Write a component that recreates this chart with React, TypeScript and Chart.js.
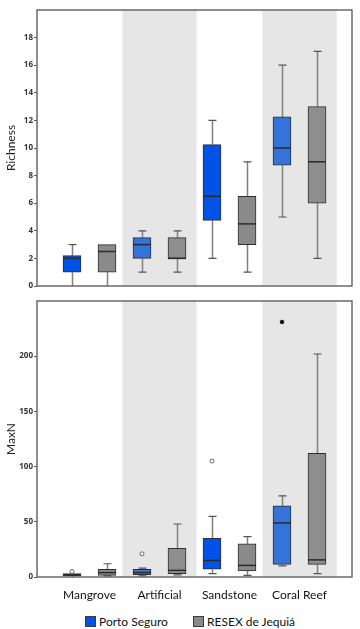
import React, { useEffect, useRef } from "react";
import { Chart, registerables } from "chart.js";
Chart.register(...registerables);

const categories = ["Mangrove", "Artificial", "Sandstone", "Coral Reef"];
const seriesNames = ["Porto Seguro", "RESEX de Jequiá"];
const shadedCategories = [1, 3];

// Richness – Porto Seguro
const richPortoMin = [0, 1, 2, 5];
const richPortoQ1 = [1, 2, 4.75, 8.75];
const richPortoMed = [2, 3, 6.5, 10];
const richPortoQ3 = [2.2, 3.5, 10.25, 12.25];
const richPortoMax = [3, 4, 12, 16];
// Richness – RESEX de Jequiá
const richResexMin = [0, 1, 1, 2];
const richResexQ1 = [1, 2, 3, 6];
const richResexMed = [2.5, 2, 4.5, 9];
const richResexQ3 = [3, 3.5, 6.5, 13];
const richResexMax = [3, 4, 9, 17];
const richTicks = [0, 2, 4, 6, 8, 10, 12, 14, 16, 18];

// MaxN – Porto Seguro
const maxnPortoMin = [0, 1, 3, 10];
const maxnPortoQ1 = [1, 2, 7, 11.5];
const maxnPortoMed = [2, 4, 15, 49];
const maxnPortoQ3 = [3, 7, 35, 64.5];
const maxnPortoMax = [3, 8, 55, 73.5];
const maxnPortoOutliers = [5, 21, 105, null];
const maxnPortoExtremes = [null, null, null, 231];
// MaxN – RESEX de Jequiá
const maxnResexMin = [1, 2, 1.5, 3];
const maxnResexQ1 = [1.5, 3, 5.5, 11.5];
const maxnResexMed = [4, 6, 10.5, 15.5];
const maxnResexQ3 = [7, 26, 30, 112];
const maxnResexMax = [12, 48, 36.5, 202];
const maxnTicks = [0, 50, 100, 150, 200];

const bluePlain = "#0352e6";
const blueShaded = "#3373da";
const grayPlain = "#8a8a8a";
const grayShaded = "#8e8e8e";
const blueColors = categories.map((_, i) => (shadedCategories.includes(i) ? blueShaded : bluePlain));
const grayColors = categories.map((_, i) => (shadedCategories.includes(i) ? grayShaded : grayPlain));

const FONT = "Lato, 'Open Sans', sans-serif";

const boxPlugin = {
  id: "boxDecor",
  beforeDatasetsDraw(chart: any, _a: any, opts: any) {
    const { ctx, chartArea, scales } = chart;
    const x = scales.x, y = scales.y;
    ctx.save();
    ctx.fillStyle = "#e6e6e6";
    shadedCategories.forEach((i) => {
      const l = x.getPixelForValue(i - 0.53);
      const r = x.getPixelForValue(i + 0.53);
      ctx.fillRect(l, chartArea.top, r - l, chartArea.bottom - chartArea.top);
    });
    opts.series.forEach((s: any) => {
      s.min.forEach((mn: number, i: number) => {
        const cx = Math.round(x.getPixelForValue(i + s.offset)) + 0.5;
        const pMin = y.getPixelForValue(mn);
        const pMax = y.getPixelForValue(s.max[i]);
        const pQ1 = y.getPixelForValue(s.q1[i]);
        const pQ3 = y.getPixelForValue(s.q3[i]);
        ctx.strokeStyle = "#808080";
        ctx.lineWidth = 1.5;
        ctx.beginPath();
        ctx.moveTo(cx, pQ3);
        ctx.lineTo(cx, pMax);
        ctx.moveTo(cx, pQ1);
        ctx.lineTo(cx, pMin);
        ctx.stroke();
        ctx.strokeStyle = "#555";
        ctx.lineWidth = 1.2;
        ctx.beginPath();
        if (pMax < pQ3 - 0.5) {
          ctx.moveTo(cx - 4, pMax);
          ctx.lineTo(cx + 4, pMax);
        }
        if (pMin > pQ1 + 0.5 && mn > 0) {
          ctx.moveTo(cx - 4, pMin);
          ctx.lineTo(cx + 4, pMin);
        }
        ctx.stroke();
      });
    });
    ctx.restore();
  },
  afterDatasetsDraw(chart: any, _a: any, opts: any) {
    const { ctx, scales } = chart;
    const x = scales.x, y = scales.y;
    ctx.save();
    ctx.strokeStyle = "#2a2a2a";
    ctx.lineWidth = 1.5;
    opts.series.forEach((s: any) => {
      s.med.forEach((m: number, i: number) => {
        const cx = x.getPixelForValue(i + s.offset);
        const py = y.getPixelForValue(m);
        ctx.beginPath();
        ctx.moveTo(cx - 9, py);
        ctx.lineTo(cx + 9, py);
        ctx.stroke();
      });
    });
    ctx.restore();
  },
  afterDraw(chart: any) {
    const { ctx, chartArea } = chart;
    ctx.save();
    ctx.strokeStyle = "#6a6a6a";
    ctx.lineWidth = 1.5;
    ctx.strokeRect(chartArea.left, chartArea.top, chartArea.right - chartArea.left, chartArea.bottom - chartArea.top);
    ctx.restore();
  },
};

type Series = { offset: number; min: number[]; q1: number[]; med: number[]; q3: number[]; max: number[]; colors: string[] };

function boxDataset(s: Series, label: string) {
  return {
    type: "bar" as const,
    label,
    data: categories.map((_, i) => ({ x: i + s.offset, y: [s.q1[i], s.q3[i]] })),
    backgroundColor: s.colors,
    borderColor: "#2e2e2e",
    borderWidth: 1,
    borderSkipped: false,
    barThickness: 18,
    grouped: false,
    order: 2,
  };
}

function pointDataset(vals: (number | null)[], offset: number, filled: boolean) {
  return {
    type: "scatter" as const,
    label: "",
    data: categories
      .map((_, i) => (vals[i] == null ? null : { x: i + offset, y: vals[i] as number }))
      .filter((d) => d !== null),
    pointStyle: "circle",
    pointRadius: filled ? 1.8 : 2,
    pointBackgroundColor: filled ? "#111" : "#fff",
    pointBorderColor: filled ? "#111" : "#666",
    pointBorderWidth: 1,
    showLine: false,
    order: 1,
  };
}

function Panel(props: {
  height: number;
  title: string;
  yMax: number;
  ticks: number[];
  porto: Series;
  resex: Series;
  outliers?: (number | null)[];
  extremes?: (number | null)[];
  showX: boolean;
  padTop: number;
  padBottom: number;
}) {
  const ref = useRef<HTMLCanvasElement>(null);
  useEffect(() => {
    const datasets: any[] = [boxDataset(props.porto, seriesNames[0]), boxDataset(props.resex, seriesNames[1])];
    if (props.outliers) datasets.push(pointDataset(props.outliers, props.porto.offset, false));
    if (props.extremes) datasets.push(pointDataset(props.extremes, props.porto.offset, true));
    const chart = new Chart(ref.current as HTMLCanvasElement, {
      type: "bar",
      data: { datasets },
      plugins: [boxPlugin],
      options: {
        responsive: false,
        animation: false,
        events: [],
        layout: { autoPadding: false, padding: { top: props.padTop, right: 8, left: 0, bottom: props.padBottom } },
        plugins: {
          legend: { display: false },
          tooltip: { enabled: false },
          boxDecor: { series: [props.porto, props.resex] },
        } as any,
        scales: {
          x: {
            type: "linear",
            min: -0.75,
            max: 3.75,
            offset: false,
            display: props.showX,
            afterBuildTicks: (s: any) => {
              s.ticks = categories.map((_, i) => ({ value: i }));
            },
            afterFit: (s: any) => {
              s.height = props.showX ? 26 : 0;
            },
            grid: { display: false, drawTicks: false },
            border: { display: false },
            ticks: {
              autoSkip: false,
              maxRotation: 0,
              padding: 11,
              color: "#111",
              font: { family: FONT, size: 12 },
              callback: (v: any) => categories[Math.round(Number(v))] ?? "",
            },
          },
          y: {
            type: "linear",
            min: 0,
            max: props.yMax,
            afterBuildTicks: (s: any) => {
              s.ticks = props.ticks.map((v) => ({ value: v }));
            },
            afterFit: (s: any) => {
              s.width = 37;
            },
            grid: { drawOnChartArea: false, drawTicks: true, tickLength: 3, color: "#555" },
            border: { display: false },
            ticks: { padding: 1, color: "#333", font: { family: "'Open Sans', sans-serif", size: 8, weight: "bold" } },
            title: { display: true, text: props.title, color: "#222", font: { family: FONT, size: 12 } },
          },
        },
      } as any,
    });
    return () => chart.destroy();
  }, []);
  return <canvas ref={ref} width={360} height={props.height} style={{ display: "block" }} />;
}

export default function App() {
  const richPorto: Series = { offset: -0.25, min: richPortoMin, q1: richPortoQ1, med: richPortoMed, q3: richPortoQ3, max: richPortoMax, colors: blueColors };
  const richResex: Series = { offset: 0.25, min: richResexMin, q1: richResexQ1, med: richResexMed, q3: richResexQ3, max: richResexMax, colors: grayColors };
  const maxnPorto: Series = { offset: -0.25, min: maxnPortoMin, q1: maxnPortoQ1, med: maxnPortoMed, q3: maxnPortoQ3, max: maxnPortoMax, colors: blueColors };
  const maxnResex: Series = { offset: 0.25, min: maxnResexMin, q1: maxnResexQ1, med: maxnResexMed, q3: maxnResexQ3, max: maxnResexMax, colors: grayColors };
  const legendItem = (left: number, color: string, text: string) => (
    <div style={{ position: "absolute", left, top: 613, display: "flex", alignItems: "center", height: 16 }}>
      <div style={{ width: 9, height: 9, background: color, border: "1px solid #3a3a3a", marginRight: 3 }} />
      <span style={{ fontFamily: FONT, fontSize: 12, color: "#111" }}>{text}</span>
    </div>
  );
  return (
    <div style={{ position: "absolute", left: 0, top: 0, width: 360, height: 629, background: "#fff", overflow: "hidden" }}>
      <div style={{ position: "absolute", left: 0, top: 0 }}>
        <Panel height={292} title="Richness" yMax={20} ticks={richTicks} porto={richPorto} resex={richResex} showX={false} padTop={10} padBottom={6} />
      </div>
      <div style={{ position: "absolute", left: 0, top: 292 }}>
        <Panel height={313} title="MaxN" yMax={250} ticks={maxnTicks} porto={maxnPorto} resex={maxnResex} outliers={maxnPortoOutliers} extremes={maxnPortoExtremes} showX={true} padTop={9} padBottom={2} />
      </div>
      {legendItem(85, bluePlain, seriesNames[0])}
      {legendItem(193, grayPlain, seriesNames[1])}
    </div>
  );
}
